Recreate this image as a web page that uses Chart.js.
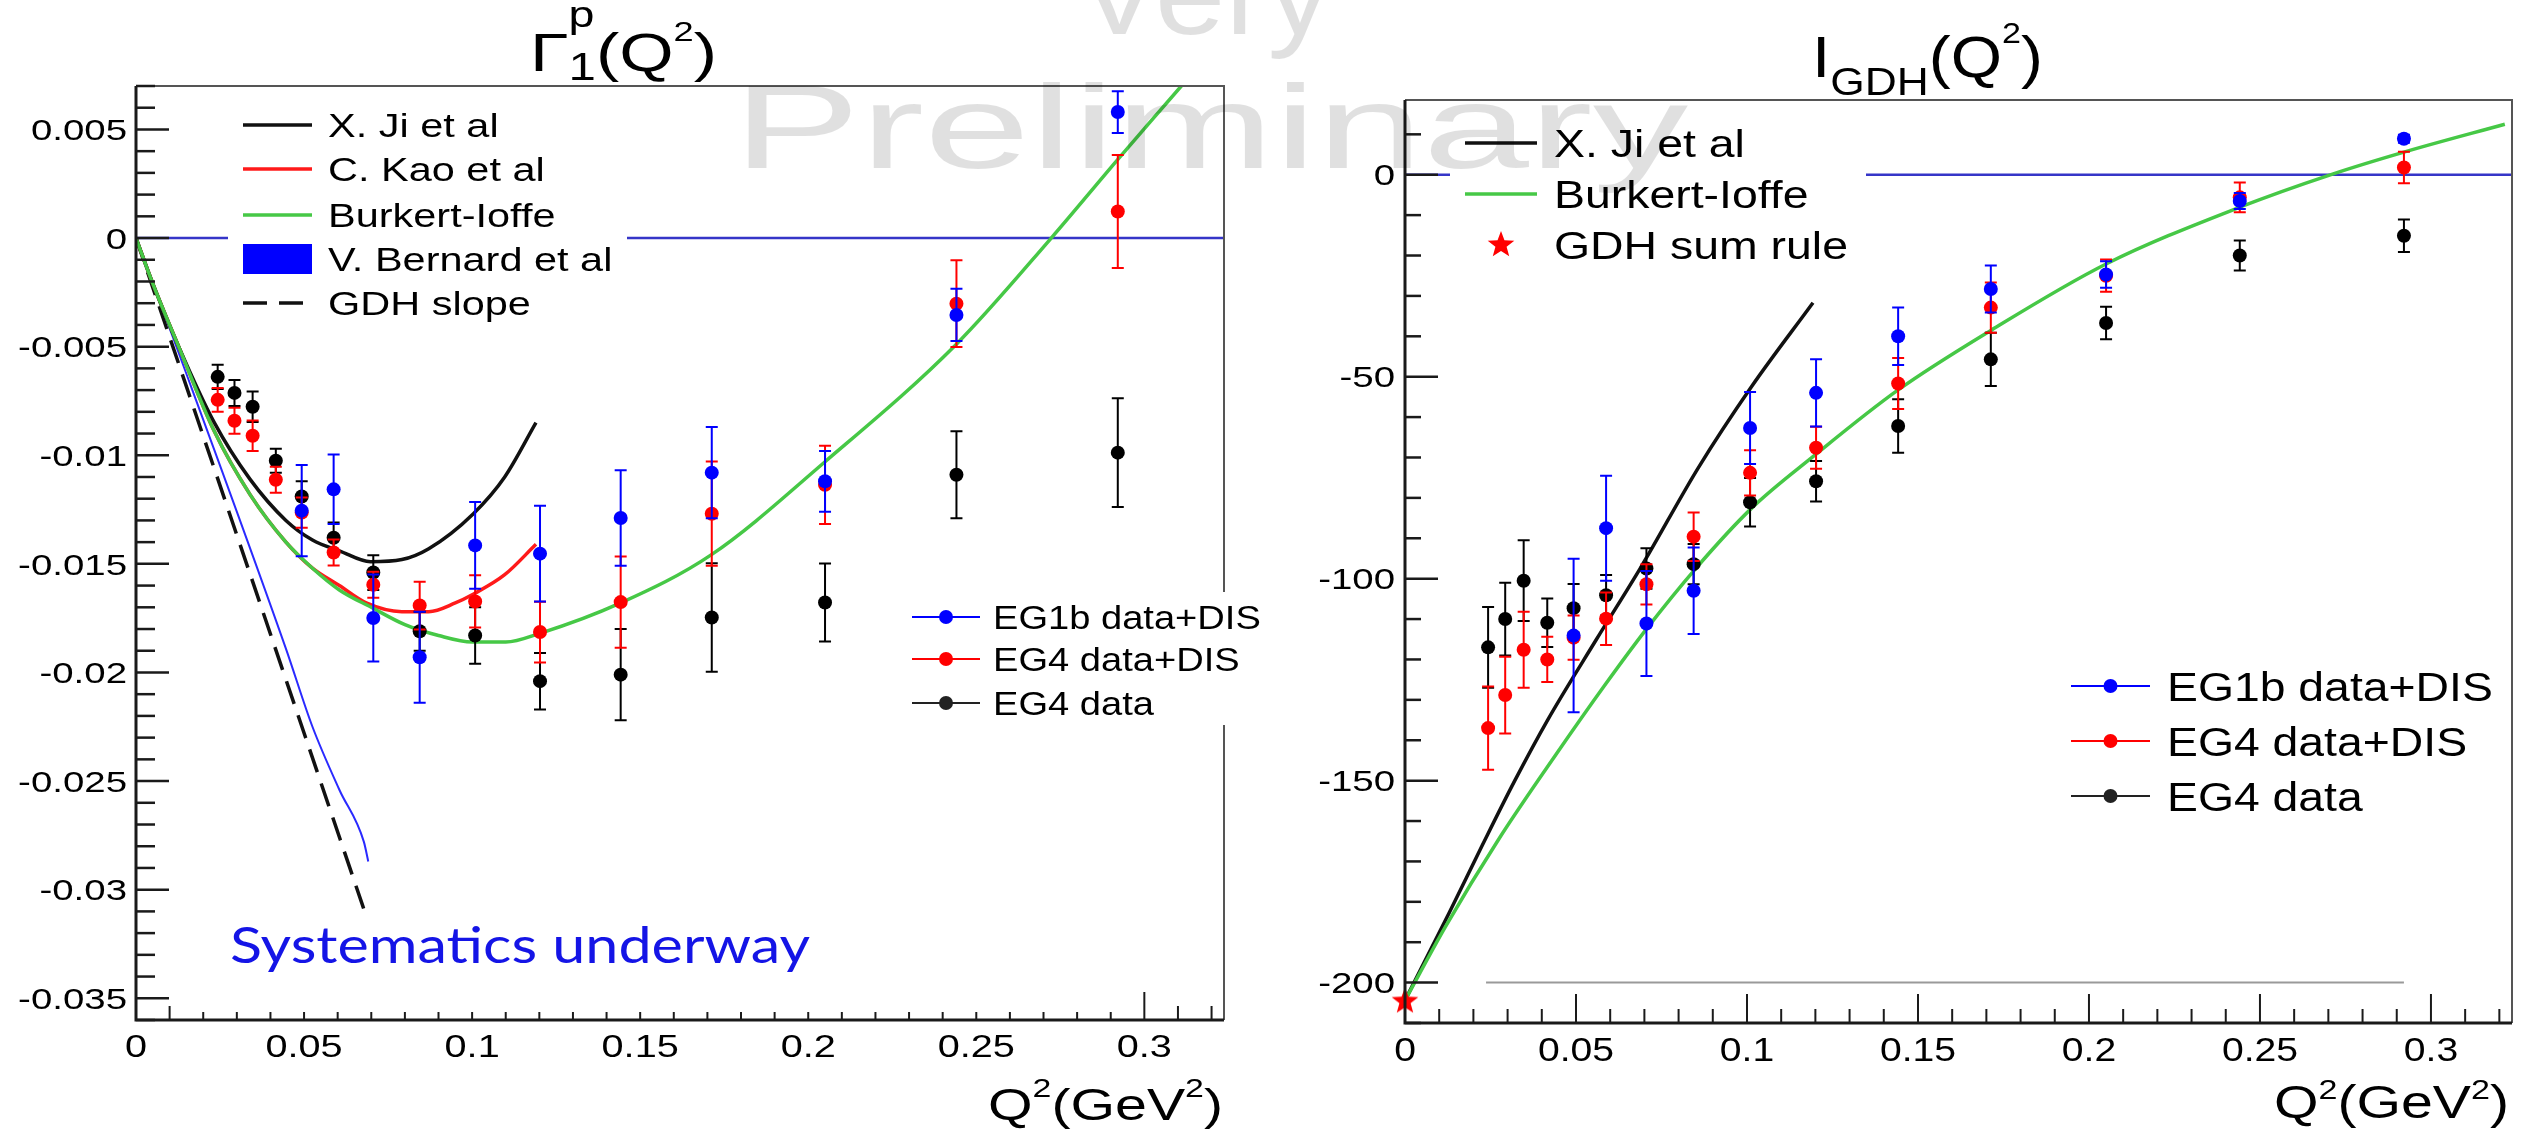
<!DOCTYPE html>
<html>
<head>
<meta charset="utf-8">
<script src="https://cdn.jsdelivr.net/npm/chart.js@4.4.0/dist/chart.umd.min.js"></script>
<style>
  html, body { margin: 0; padding: 0; background: #fff; width: 2534px; height: 1133px; overflow: hidden; position: relative; }
  canvas { position: absolute; top: 0; }
  #cLeft { left: 0; }
  #cRight { left: 1267px; }
  .wm { position: absolute; color: rgba(0,0,0,0.12); font-family: "Liberation Sans", Arial, sans-serif;
        white-space: nowrap; transform-origin: 0 0; pointer-events: none; line-height: 1; }
</style>
</head>
<body>
<canvas id="cLeft" width="1267" height="1133"></canvas>
<canvas id="cRight" width="1267" height="1133"></canvas>
<div class="wm" id="wmVery">Very</div>
<div class="wm" id="wmPrelim">Preliminary</div>
<script>
// Q2 bins (GeV^2)
const q2Bins = [0.0243, 0.0293, 0.0347, 0.0416, 0.0493, 0.0588, 0.0706, 0.0844, 0.1009, 0.1202, 0.1442, 0.1713, 0.2050, 0.2441, 0.2921];
const q2BinsEG1b = [0.0493, 0.0588, 0.0706, 0.0844, 0.1009, 0.1202, 0.1442, 0.1713, 0.2050, 0.2441, 0.2921];
const xMax = 0.3237;

// ---- Gamma_1^p(Q2)
const gamEG4 = [-0.00639, -0.00713, -0.00777, -0.01025, -0.0119, -0.0138, -0.0154, -0.0181, -0.0183, -0.0204, -0.0201, -0.01747, -0.01678, -0.0109, -0.00988];
const gamEG4Err = [0.00056, 0.0006, 0.0007, 0.00055, 0.0007, 0.0007, 0.0008, 0.0009, 0.0013, 0.0013, 0.0021, 0.0025, 0.0018, 0.002, 0.0025];
const gamEG4DIS = [-0.00745, -0.00841, -0.0091, -0.01113, -0.01264, -0.01448, -0.01596, -0.01692, -0.01673, -0.01814, -0.01676, -0.01269, -0.01136, -0.00302, 0.00122];
const gamEG4DISErr = [0.00055, 0.0006, 0.0007, 0.0006, 0.0007, 0.0006, 0.0006, 0.0011, 0.0012, 0.0014, 0.0021, 0.0024, 0.0018, 0.002, 0.0026];
const gamEG1b = [-0.01255, -0.01157, -0.01749, -0.0193, -0.01415, -0.01453, -0.01289, -0.0108, -0.0112, -0.00354, 0.0058];
const gamEG1bErr = [0.0021, 0.0016, 0.002, 0.0021, 0.002, 0.0022, 0.0022, 0.0021, 0.0014, 0.0012, 0.00096];

const gamJiQ = [0, 0.005, 0.0127, 0.0233, 0.0339, 0.0446, 0.0525, 0.0605, 0.0698, 0.0791, 0.0871, 0.1003, 0.1097, 0.119];
const gamJi = [0, -0.0021, -0.0050, -0.0085, -0.0111, -0.0130, -0.0139, -0.0144, -0.0149, -0.0148, -0.0143, -0.0127, -0.0110, -0.0085];
const gamKaoQ = [0, 0.005, 0.0127, 0.0233, 0.0339, 0.0446, 0.0525, 0.0605, 0.0685, 0.0791, 0.0871, 0.095, 0.1003, 0.1097, 0.119];
const gamKao = [0, -0.0021, -0.0050, -0.0089, -0.0118, -0.0140, -0.0152, -0.0160, -0.0168, -0.0172, -0.0172, -0.0168, -0.0164, -0.0155, -0.0141];
const gamBIQ = [0, 0.005, 0.0127, 0.0233, 0.0339, 0.0446, 0.0525, 0.0605, 0.07, 0.08, 0.09, 0.1, 0.11, 0.1202, 0.1442, 0.171, 0.205, 0.244, 0.2723, 0.292, 0.311, 0.322];
const gamBI = [0, -0.0021, -0.0050, -0.0089, -0.0118, -0.0140, -0.0152, -0.0162, -0.0170, -0.0178, -0.0183, -0.0186, -0.0186, -0.0182, -0.0168, -0.0146, -0.0103, -0.0049, 0.0, 0.0036, 0.0070, 0.0090];
const gamBerQ = [0, 0.0125, 0.0446, 0.0525, 0.0605, 0.0678, 0.0691];
const gamBer = [0, -0.0052, -0.0189, -0.0225, -0.0254, -0.0278, -0.0287];
const gamSlopeQ = [0, 0.0678];
const gamSlope = [0, -0.0309];

const gamYTicks = [0.005, 0, -0.005, -0.01, -0.015, -0.02, -0.025, -0.03, -0.035];
const gamYLabels = ['0.005', '0', '-0.005', '-0.01', '-0.015', '-0.02', '-0.025', '-0.03', '-0.035'];

// ---- I_GDH(Q2)
const gdhEG4 = [-117.0, -110.0, -100.5, -110.9, -107.3, -104.1, -97.5, -96.4, -81.1, -75.9, -62.2, -45.7, -36.7, -20.0, -15.1];
const gdhEG4Err = [10, 9, 10, 6, 6, 5, 5, 5, 6, 5, 6.6, 6.6, 4, 3.7, 4];
const gdhEG4DIS = [-137.0, -128.8, -117.6, -120.0, -114.6, -109.9, -101.4, -89.6, -73.8, -67.6, -51.7, -32.9, -25.0, -5.6, 1.8];
const gdhEG4DISErr = [10.3, 9.5, 9.4, 5.6, 5.5, 6.5, 5, 6, 5.6, 5.2, 6.3, 6.2, 4, 3.7, 3.9];
const gdhEG1b = [-114.1, -87.5, -111.1, -103, -62.7, -54.0, -40.0, -28.3, -24.7, -6.5, 8.9];
const gdhEG1bErr = [19, 13, 13, 10.7, 8.9, 8.3, 7.1, 5.8, 3.3, 2, 1];

const gdhJiQ = [0, 0.013, 0.0226, 0.0321, 0.0417, 0.056, 0.0691, 0.0858, 0.1013, 0.1193];
const gdhJi = [-204.4, -182.6, -166.0, -150.0, -135.0, -115.0, -97.0, -72.5, -52.5, -31.7];
const gdhBIQ = [0, 0.0118, 0.0274, 0.0441, 0.0584, 0.0703, 0.085, 0.1013, 0.1193, 0.144, 0.1712, 0.205, 0.2439, 0.271, 0.2921, 0.3216];
const gdhBI = [-204.4, -186.2, -164.5, -143.6, -126.4, -112.8, -97.5, -82.6, -69.8, -53.4, -38.6, -22.1, -8.1, 0.1, 5.6, 12.5];
const gdhSumRuleQ = [0];
const gdhSumRule = [-204.4];
const gdhSysQ = [0.0237, 0.2921];
const gdhSys = [-200, -200];

const gdhYTicks = [0, -50, -100, -150, -200];
const gdhYLabels = ['0', '-50', '-100', '-150', '-200'];

const xTicks = [0, 0.05, 0.1, 0.15, 0.2, 0.25, 0.3];
const xLabels = ['0', '0.05', '0.1', '0.15', '0.2', '0.25', '0.3'];

const SANS = '"Liberation Sans", Arial, sans-serif';
const BLUE = '#0000ff', RED = '#ff0000', BLACK = '#000000', GREEN = '#46c846';

function pts(xs, ys) { return xs.map((x, i) => ({ x: x, y: ys[i] })); }

function sText(ctx, str, x, y, size, align, sx, color, family) {
  ctx.save();
  ctx.font = size + 'px ' + (family || SANS);
  const w = ctx.measureText(str).width * sx;
  const x0 = align === 'right' ? x - w : align === 'center' ? x - w / 2 : x;
  ctx.translate(x0, y);
  ctx.scale(sx, 1);
  ctx.fillStyle = color || '#000';
  ctx.textAlign = 'left';
  ctx.textBaseline = 'alphabetic';
  ctx.fillText(str, 0, 0);
  ctx.restore();
  return w;
}

function fitText(ctx, str, x, y, size, width, color, family) {
  ctx.save();
  ctx.font = size + 'px ' + family;
  const sx = width / ctx.measureText(str).width;
  ctx.restore();
  sText(ctx, str, x, y, size, 'left', sx, color, family);
}

function richText(ctx, parts, x, base, width, align) {
  let cur = 0, lastStart = 0, lastW = 0;
  parts.forEach(p => {
    ctx.font = p.s + 'px ' + SANS;
    const w = ctx.measureText(p.t).width;
    if (p.stack) { p._x = lastStart; lastW = Math.max(lastW, w); cur = lastStart + lastW; }
    else { p._x = cur; lastStart = cur; lastW = w; cur += w; }
  });
  const sx = width / cur;
  const x0 = align === 'right' ? x - width : x;
  ctx.save();
  ctx.translate(x0, base);
  ctx.scale(sx, 1);
  ctx.fillStyle = '#000';
  ctx.textBaseline = 'alphabetic';
  parts.forEach(p => { ctx.font = p.s + 'px ' + SANS; ctx.fillText(p.t, p._x, p.dy || 0); });
  ctx.restore();
}

function starPath(ctx, cx, cy, R) {
  const r = R * 0.42;
  ctx.beginPath();
  for (let k = 0; k < 10; k++) {
    const a = -Math.PI / 2 + k * Math.PI / 5;
    const rr = k % 2 === 0 ? R : r;
    ctx.lineTo(cx + rr * Math.cos(a), cy + rr * Math.sin(a));
  }
  ctx.closePath();
}

const starImg = document.createElement('canvas');
starImg.width = 30; starImg.height = 30;
(function () {
  const c = starImg.getContext('2d');
  starPath(c, 15, 16, 14);
  c.fillStyle = RED;
  c.fill();
})();

function drawLegend(ctx, L) {
  ctx.save();
  ctx.fillStyle = '#fff';
  ctx.fillRect(L.box[0], L.box[1], L.box[2], L.box[3]);
  L.rows.forEach(r => {
    ctx.save();
    if (r.kind === 'band') {
      ctx.fillStyle = r.color;
      ctx.fillRect(L.x1, r.y - 15, L.x2 - L.x1, 30);
    } else if (r.kind === 'star') {
      starPath(ctx, (L.x1 + L.x2) / 2, r.y, 14);
      ctx.fillStyle = r.color;
      ctx.fill();
    } else {
      ctx.strokeStyle = r.color;
      ctx.lineWidth = r.kind === 'marker' ? 2 : 3.5;
      if (r.kind === 'dash') ctx.setLineDash([24, 12]);
      ctx.beginPath();
      ctx.moveTo(L.x1, r.y);
      ctx.lineTo(L.x2, r.y);
      ctx.stroke();
      if (r.kind === 'marker') {
        ctx.fillStyle = r.color;
        ctx.beginPath();
        ctx.arc((L.x1 + L.x2) / 2, r.y, 7, 0, Math.PI * 2);
        ctx.fill();
      }
    }
    ctx.restore();
    sText(ctx, r.text, L.tx, r.y + L.size * 0.358, L.size, 'left', L.sx, '#000');
  });
  ctx.restore();
}

function rootPlot(cfg) {
  return {
    id: 'rootPlot',
    beforeDatasetDraw(chart, args) {
      const ds = chart.data.datasets[args.index];
      if (!ds.errors) return;
      const ctx = chart.ctx, ys = chart.scales.y;
      ctx.save();
      ctx.strokeStyle = ds.pointBackgroundColor;
      ctx.lineWidth = 2;
      args.meta.data.forEach((pt, i) => {
        const v = ds.data[i].y, e = ds.errors[i];
        const top = ys.getPixelForValue(v + e), bot = ys.getPixelForValue(v - e);
        ctx.beginPath();
        ctx.moveTo(pt.x, top); ctx.lineTo(pt.x, bot);
        ctx.moveTo(pt.x - 6, top); ctx.lineTo(pt.x + 6, top);
        ctx.moveTo(pt.x - 6, bot); ctx.lineTo(pt.x + 6, bot);
        ctx.stroke();
      });
      ctx.restore();
    },
    afterDraw(chart) {
      const ctx = chart.ctx, a = chart.chartArea, xs = chart.scales.x, ys = chart.scales.y;
      ctx.save();
      // frame
      ctx.lineWidth = 2; ctx.strokeStyle = '#555';
      ctx.beginPath(); ctx.moveTo(a.left, a.top); ctx.lineTo(a.right, a.top); ctx.lineTo(a.right, a.bottom); ctx.stroke();
      ctx.lineWidth = 3; ctx.strokeStyle = '#1a1a1a';
      ctx.beginPath(); ctx.moveTo(a.left, a.top); ctx.lineTo(a.left, a.bottom); ctx.lineTo(a.right, a.bottom); ctx.stroke();
      // y ticks
      ctx.lineWidth = 2.5;
      for (let k = cfg.yMinorFrom; k <= cfg.yMinorTo; k++) {
        const v = k * cfg.yMinorStep;
        const major = Math.abs(Math.round(v / cfg.yMajorStep) * cfg.yMajorStep - v) < cfg.yMinorStep / 10;
        const py = ys.getPixelForValue(v);
        ctx.beginPath(); ctx.moveTo(a.left, py); ctx.lineTo(a.left + (major ? 33 : cfg.yMinorLen), py); ctx.stroke();
      }
      // x ticks
      ctx.lineWidth = 2;
      for (let k = 1; k <= 32; k++) {
        const px = xs.getPixelForValue(k * 0.01);
        const len = cfg.xTickLen(k);
        ctx.beginPath(); ctx.moveTo(px, a.bottom); ctx.lineTo(px, a.bottom - len); ctx.stroke();
      }
      // tick labels
      cfg.yTicks.forEach((v, i) => {
        sText(ctx, cfg.yLabels[i], cfg.yLabelRight, ys.getPixelForValue(v) + 10.7, 30, 'right', 1.28, '#000');
      });
      xTicks.forEach((v, i) => {
        sText(ctx, xLabels[i], xs.getPixelForValue(v), cfg.xLabelBase, cfg.xLabelSize, 'center', cfg.xLabelSx, '#000');
      });
      richText(ctx, cfg.xTitle.parts, cfg.xTitle.x, cfg.xTitle.base, cfg.xTitle.w, 'right');
      richText(ctx, cfg.title.parts, cfg.title.x, cfg.title.base, cfg.title.w, 'left');
      cfg.legends.forEach(L => drawLegend(ctx, L));
      if (cfg.note) fitText(ctx, cfg.note.text, cfg.note.x, cfg.note.y, cfg.note.size, cfg.note.w, cfg.note.color, cfg.note.family);
      ctx.restore();
    }
  };
}

function dataSet(label, xs, ys, errs, color, order) {
  return {
    label: label, data: pts(xs, ys), errors: errs, showLine: false,
    pointRadius: 7, pointBorderWidth: 0, pointBackgroundColor: color, pointBorderColor: color, order: order
  };
}
function curveSet(label, xs, ys, color, width, dash, order) {
  return {
    label: label, data: pts(xs, ys), showLine: true, pointRadius: 0, borderColor: color,
    borderWidth: width, borderDash: dash || [], cubicInterpolationMode: 'monotone', order: order
  };
}

function baseOptions(pad, yMin, yMax) {
  return {
    responsive: false, animation: false, devicePixelRatio: 1, events: [],
    layout: { padding: pad },
    plugins: { legend: { display: false }, tooltip: { enabled: false }, title: { display: false } },
    scales: {
      x: { type: 'linear', min: 0, max: xMax, display: false },
      y: { type: 'linear', min: yMin, max: yMax, display: false }
    }
  };
}

// ---- left chart: Gamma_1^p
new Chart(document.getElementById('cLeft').getContext('2d'), {
  type: 'scatter',
  data: {
    datasets: [
      dataSet('EG1b data+DIS', q2BinsEG1b, gamEG1b, gamEG1bErr, BLUE, 1),
      dataSet('EG4 data+DIS', q2Bins, gamEG4DIS, gamEG4DISErr, RED, 2),
      dataSet('EG4 data', q2Bins, gamEG4, gamEG4Err, BLACK, 3),
      curveSet('X. Ji et al', gamJiQ, gamJi, '#111', 3.5, null, 5),
      curveSet('C. Kao et al', gamKaoQ, gamKao, '#ff1a1a', 3.5, null, 6),
      curveSet('Burkert-Ioffe', gamBIQ, gamBI, GREEN, 3.5, null, 4),
      curveSet('V. Bernard et al', gamBerQ, gamBer, '#2a2aff', 2, null, 7),
      curveSet('GDH slope', gamSlopeQ, gamSlope, '#111', 3.5, [24, 12], 8),
      curveSet('zero', [0, xMax], [0, 0], '#3535c8', 2.5, null, 9)
    ]
  },
  options: baseOptions({ left: 136, right: 43, top: 86, bottom: 113 }, -0.036, 0.007),
  plugins: [rootPlot({
    yMinorFrom: -36, yMinorTo: 7, yMinorStep: 0.001, yMajorStep: 0.005, yMinorLen: 19,
    xTickLen: k => (k === 30 ? 28 : (k === 1 || k === 31 || k === 32) ? 14 : 8),
    yTicks: gamYTicks, yLabels: gamYLabels, yLabelRight: 127,
    xLabelBase: 1057, xLabelSize: 32, xLabelSx: 1.24,
    xTitle: { x: 1223, base: 1120, w: 235, parts: [
      { t: 'Q', s: 44 }, { t: '2', s: 26, dy: -23 }, { t: '(GeV', s: 44 }, { t: '2', s: 26, dy: -23 }, { t: ')', s: 44 }] },
    title: { x: 530, base: 71, w: 187, parts: [
      { t: 'Γ', s: 54 }, { t: '1', s: 38, dy: 9 }, { t: 'p', s: 36, dy: -44, stack: true },
      { t: '(Q', s: 54 }, { t: '2', s: 28, dy: -30 }, { t: ')', s: 54 }] },
    legends: [
      { box: [228, 100, 399, 225], x1: 243, x2: 312, tx: 328, size: 34, sx: 1.22, rows: [
        { y: 125, kind: 'line', color: '#111', text: 'X. Ji et al' },
        { y: 169, kind: 'line', color: '#ff1a1a', text: 'C. Kao et al' },
        { y: 215, kind: 'line', color: GREEN, text: 'Burkert-Ioffe' },
        { y: 259, kind: 'band', color: BLUE, text: 'V. Bernard et al' },
        { y: 303, kind: 'dash', color: '#111', text: 'GDH slope' }] },
      { box: [895, 592, 372, 133], x1: 912, x2: 980, tx: 993, size: 34, sx: 1.12, rows: [
        { y: 617, kind: 'marker', color: BLUE, text: 'EG1b data+DIS' },
        { y: 659, kind: 'marker', color: RED, text: 'EG4 data+DIS' },
        { y: 703, kind: 'marker', color: '#222', text: 'EG4 data' }] }
    ],
    note: { text: 'Systematics underway', x: 230, y: 963, size: 50, w: 580, color: '#1414e6', family: 'Lato, "Open Sans", sans-serif' }
  })]
});

// ---- right chart: I_GDH
new Chart(document.getElementById('cRight').getContext('2d'), {
  type: 'scatter',
  data: {
    datasets: [
      { label: 'GDH sum rule', data: pts(gdhSumRuleQ, gdhSumRule), pointStyle: starImg, pointRadius: 14, clip: false, order: 0 },
      dataSet('EG1b data+DIS', q2BinsEG1b, gdhEG1b, gdhEG1bErr, BLUE, 1),
      dataSet('EG4 data+DIS', q2Bins, gdhEG4DIS, gdhEG4DISErr, RED, 2),
      dataSet('EG4 data', q2Bins, gdhEG4, gdhEG4Err, BLACK, 3),
      curveSet('X. Ji et al', gdhJiQ, gdhJi, '#111', 3.5, null, 5),
      curveSet('Burkert-Ioffe', gdhBIQ, gdhBI, GREEN, 3.5, null, 4),
      curveSet('zero', [0, xMax], [0, 0], '#3535c8', 2.5, null, 9),
      curveSet('sys', gdhSysQ, gdhSys, '#9a9a9a', 2, null, 10)
    ]
  },
  options: baseOptions({ left: 138, right: 22, top: 100, bottom: 110 }, -210, 18.5),
  plugins: [rootPlot({
    yMinorFrom: -21, yMinorTo: 1, yMinorStep: 10, yMajorStep: 50, yMinorLen: 16,
    xTickLen: k => (k % 5 === 0 ? 29 : 14),
    yTicks: gdhYTicks, yLabels: gdhYLabels, yLabelRight: 128,
    xLabelBase: 1061, xLabelSize: 34, xLabelSx: 1.15,
    xTitle: { x: 1242, base: 1118, w: 235, parts: [
      { t: 'Q', s: 47 }, { t: '2', s: 28, dy: -19 }, { t: '(GeV', s: 47 }, { t: '2', s: 28, dy: -19 }, { t: ')', s: 47 }] },
    title: { x: 545, base: 77, w: 231, parts: [
      { t: 'I', s: 58 }, { t: 'GDH', s: 39, dy: 18 }, { t: '(Q', s: 58 }, { t: '2', s: 30, dy: -34 }, { t: ')', s: 58 }] },
    legends: [
      { box: [183, 112, 416, 160], x1: 198, x2: 270, tx: 287, size: 39, sx: 1.19, rows: [
        { y: 143, kind: 'line', color: '#111', text: 'X. Ji et al' },
        { y: 194, kind: 'line', color: GREEN, text: 'Burkert-Ioffe' },
        { y: 245, kind: 'star', color: RED, text: 'GDH sum rule' }] },
      { box: [793, 655, 440, 170], x1: 804, x2: 883, tx: 900, size: 41, sx: 1.13, rows: [
        { y: 686, kind: 'marker', color: BLUE, text: 'EG1b data+DIS' },
        { y: 741, kind: 'marker', color: RED, text: 'EG4 data+DIS' },
        { y: 796, kind: 'marker', color: '#222', text: 'EG4 data' }] }
    ]
  })]
});

// watermark, stretched to its footprint on the slide
function placeWm(id, left, top, size, width) {
  const el = document.getElementById(id);
  el.style.fontSize = size + 'px';
  el.style.left = left + 'px';
  el.style.top = top + 'px';
  el.style.transform = 'scaleX(' + (width / el.offsetWidth) + ')';
}
placeWm('wmVery', 1077, -66, 118, 254);
placeWm('wmPrelim', 733, 68, 118, 955);
</script>
</body>
</html>
